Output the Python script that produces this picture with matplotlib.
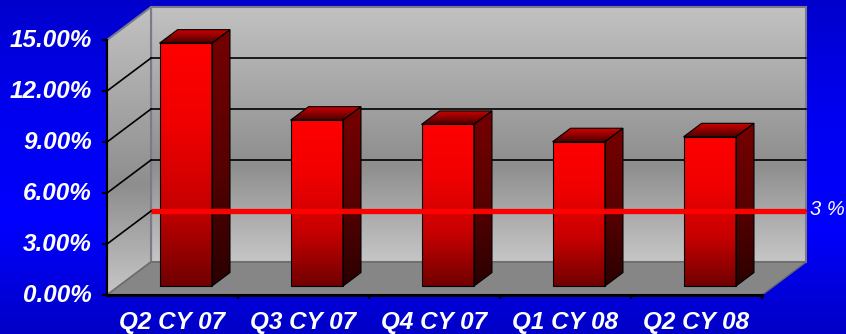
import numpy as np
import matplotlib
matplotlib.use('Agg')
import matplotlib.pyplot as plt
from matplotlib.colors import LinearSegmentedColormap
from matplotlib.patches import Polygon

# quarterly rates (percent)
quarters = ['Q2 CY 07', 'Q3 CY 07', 'Q4 CY 07', 'Q1 CY 08', 'Q2 CY 08']
rates = [14.29, 9.76, 9.51, 8.49, 8.78]
y_ticks = [0, 3, 6, 9, 12, 15]
y_tick_labels = ['0.00%', '3.00%', '6.00%', '9.00%', '12.00%', '15.00%']
target = 3
target_label = '3 %'

# oblique "3D" offset for one unit of depth, in data units
DX, DY = 0.336, 1.94


def proj(x, v, d):
    return (x + d * DX, v + d * DY)


def shade(ax, pts, colors, edge='none', lw=1.0, z=1):
    # polygon filled with a vertical gradient (colors listed top -> bottom)
    cmap = LinearSegmentedColormap.from_list('g', colors)
    xs, ys = zip(*pts)
    patch = Polygon(pts, closed=True, facecolor='none', edgecolor=edge,
                    lw=lw, zorder=z + 0.01)
    ax.add_patch(patch)
    grad = np.linspace(0, 1, 256).reshape(-1, 1)
    im = ax.imshow(grad, cmap=cmap, aspect='auto', origin='upper',
                   extent=(min(xs), max(xs), min(ys), max(ys)),
                   interpolation='bilinear', zorder=z)
    im.set_clip_path(patch)


fig = plt.figure(figsize=(8.46, 3.34), dpi=100)
ax = fig.add_axes([0, 0, 1, 1])
ax.axis('off')
xlim = (-0.817, 5.641)
ylim = (-2.294, 17.353)

# blue backdrop
bg = LinearSegmentedColormap.from_list('bg', ['#0000cc', '#0000f0', '#0000ff', '#0000c6'])
ax.imshow(np.linspace(0, 1, 256).reshape(-1, 1), cmap=bg, aspect='auto',
          extent=(xlim[0], xlim[1], ylim[0], ylim[1]), origin='upper', zorder=0)

n = len(quarters)
top = y_ticks[-1]
wall = [(0, '#c2c2c2'), (0.62, '#8e8e8e'), (1, '#c6c6c6')]

# back wall and left side wall
shade(ax, [proj(0, 0, 1), proj(n, 0, 1), proj(n, top, 1), proj(0, top, 1)],
      wall, edge='#7a7a88', lw=1.5, z=1)
shade(ax, [proj(0, 0, 0), proj(0, 0, 1), proj(0, top, 1), proj(0, top, 0)],
      wall, edge='#7a7a88', lw=1.5, z=1)

# floor
floor = Polygon([proj(0, 0, 0), proj(n, 0, 0), proj(n, 0, 1), proj(0, 0, 1)],
                closed=True, facecolor='#868686', edgecolor='#6a6a6a', lw=1, zorder=2)
ax.add_patch(floor)

# gridlines on both walls
for v in y_ticks[1:-1]:
    p0, p1 = proj(0, v, 1), proj(n, v, 1)
    ax.plot([p0[0], p1[0]], [p0[1], p1[1]], color='black', lw=1.2, zorder=3)
    q0 = proj(0, v, 0)
    ax.plot([q0[0], p0[0]], [q0[1], p0[1]], color='black', lw=1.2, zorder=3)

# bars
d0, d1 = 0.27, 0.68
for i, r in enumerate(rates):
    x0, x1 = i + 0.31, i + 0.71
    z = 4 + i * 0.1
    shade(ax, [proj(x0, 0, d0), proj(x1, 0, d0), proj(x1, r, d0), proj(x0, r, d0)],
          ['#ff0000', '#f00000', '#c80000', '#700000'], edge='black', lw=0.8, z=z)
    shade(ax, [proj(x1, 0, d0), proj(x1, 0, d1), proj(x1, r, d1), proj(x1, r, d0)],
          ['#760000', '#5a0000', '#2a0000'], edge='black', lw=0.8, z=z)
    shade(ax, [proj(x0, r, d0), proj(x1, r, d0), proj(x1, r, d1), proj(x0, r, d1)],
          ['#d00000', '#900000', '#4a0000'], edge='black', lw=0.8, z=z)

# axes lines and ticks
ax.plot([0, 0], [0, top], color='black', lw=1.5, zorder=6)
ax.plot([0, n], [0, 0], color='black', lw=2.2, zorder=6)
for v in y_ticks:
    ax.plot([-0.03, 0], [v, v], color='black', lw=1.5, zorder=6)
for i in range(1, n + 1):
    ax.plot([i, i], [0, -0.2], color='black', lw=1.5, zorder=6)

font = dict(family='Liberation Sans', weight='bold', style='italic', color='white')
for v, lab in zip(y_ticks, y_tick_labels):
    ax.text(-0.115, v, lab, ha='right', va='center', fontsize=17.5, **font)
for i, q in enumerate(quarters):
    ax.text(i + 0.5, -1.62, q, ha='center', va='center', fontsize=17.5, **font)

# target line on the back wall
t0, t1 = proj(0, target, 1), proj(n, target, 1)
ax.plot([t0[0], t1[0]], [t0[1], t1[1]], color='#ff0000', lw=3.8,
        solid_capstyle='butt', zorder=10)
ax.text(t1[0] + 0.03, t1[1] + 0.1, target_label, ha='left', va='center',
        fontsize=14.5, family='Liberation Sans', style='italic', color='white', zorder=10)

ax.set_xlim(*xlim)
ax.set_ylim(*ylim)
fig.savefig('out.png', dpi=100)
